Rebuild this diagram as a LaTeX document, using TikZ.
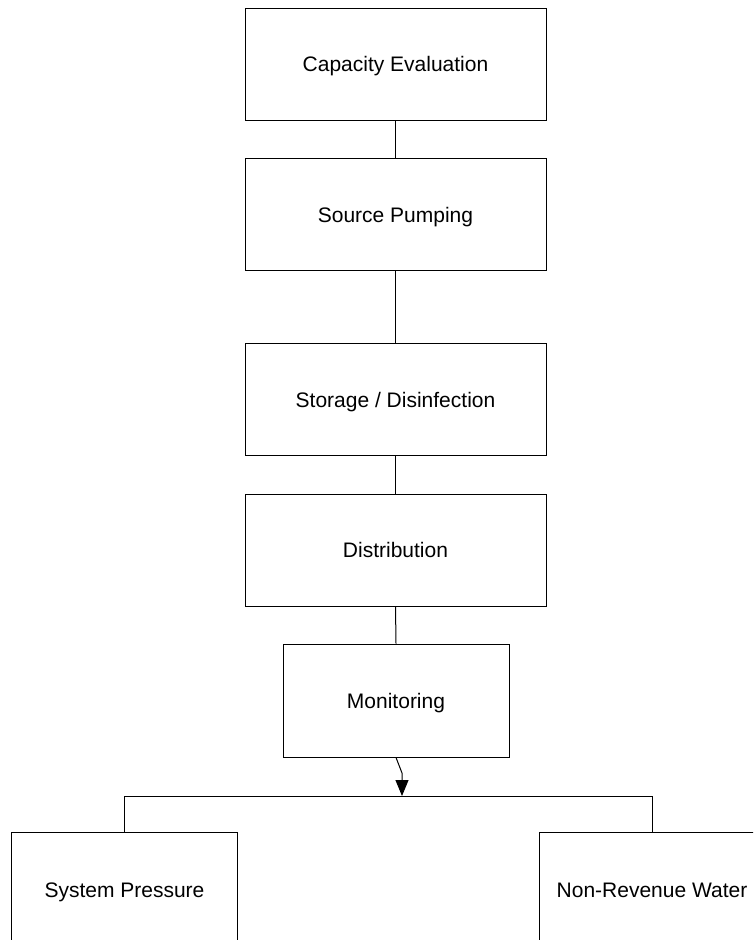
\documentclass[tikz,border=0pt]{standalone}
\usepackage{fontspec}
\setmainfont{Liberation Sans}
\usetikzlibrary{arrows.meta}
\begin{document}
\begin{tikzpicture}[x=1pt,y=1pt,
  box/.style={draw=black, line width=1pt, fill=white, inner sep=0pt,
    text height=15pt, text depth=0pt,
    font=\fontsize{21}{25}\selectfont, text=black},
  bigbox/.style={box, minimum width=301pt, minimum height=112pt},
  midbox/.style={box, minimum width=226pt, minimum height=113pt},
  lowbox/.style={box, minimum width=226pt, minimum height=116pt},
  conn/.style={draw=black, line width=1pt}]
\clip (0,0) rectangle (753,-940);
\fill[white] (0,0) rectangle (753,-940);
\node[bigbox] (cap) at (395.5,-64) {Capacity Evaluation};
\node[bigbox] (src) at (395.5,-214.5) {Source Pumping};
\node[bigbox] (sto) at (395.5,-399.5) {Storage / Disinfection};
\node[bigbox] (dis) at (395.5,-550) {Distribution};
\node[midbox] (mon) at (396,-700.5) {Monitoring};
\node[lowbox] (sp) at (124.5,-890) {System Pressure};
\node[lowbox] (nrw) at (652,-890) {Non-Revenue Water};
\coordinate (j) at (402,-796);
\coordinate (bend) at (402,-773);
\draw[conn] (cap.south) -- (src.north);
\draw[conn] (src.south) -- (sto.north);
\draw[conn] (sto.south) -- (dis.north);
\draw[conn] (dis.south) -- (mon.north);
\draw[conn] (sp.north) |- (j) -| (nrw.north);
\draw[conn, -{Triangle[length=16pt,width=13pt]}] (mon.south) -- (bend) -- (j);
\end{tikzpicture}
\end{document}
